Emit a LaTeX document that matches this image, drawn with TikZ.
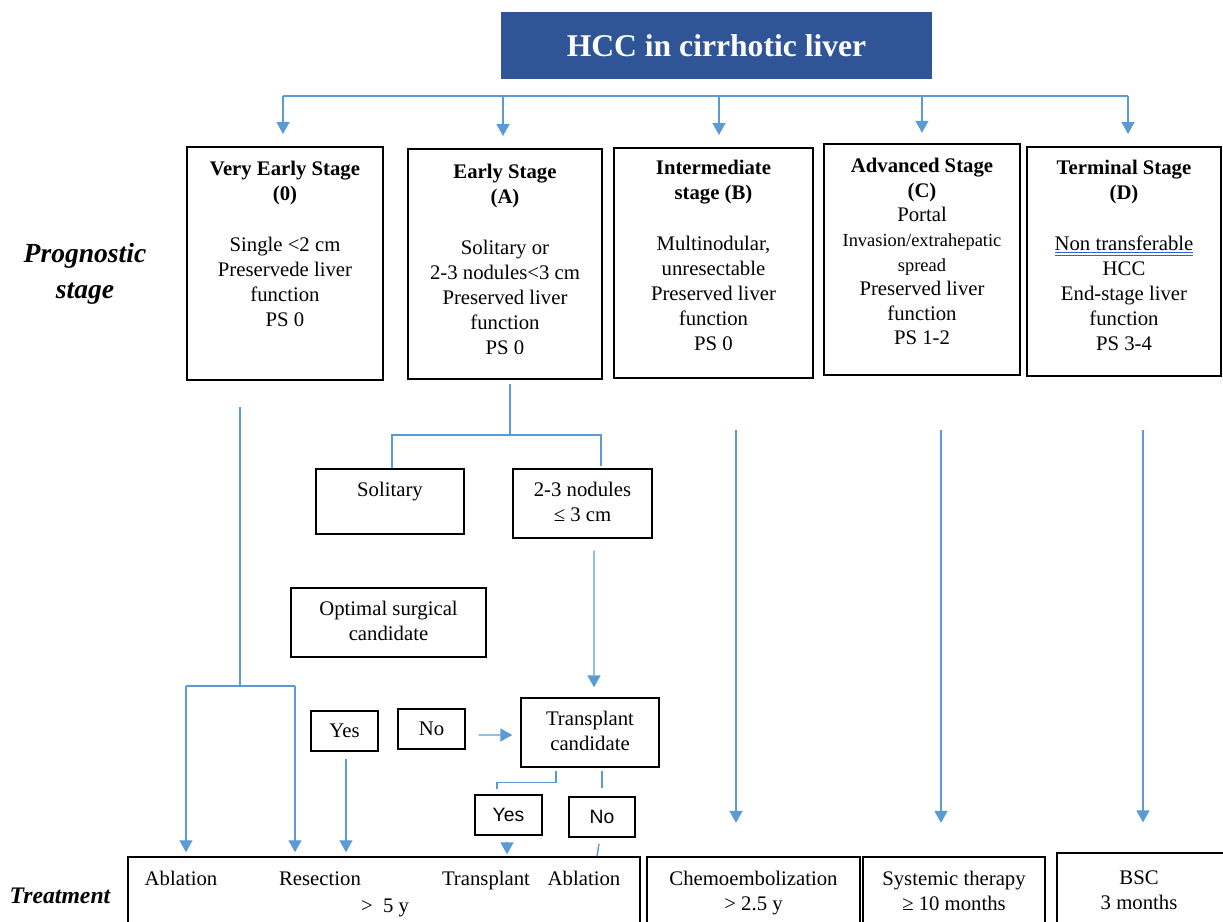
\documentclass[tikz,border=0pt]{standalone}
\usepackage{fontspec}
\setmainfont{Liberation Serif}
\newfontfamily\sansf{Liberation Sans}
\usetikzlibrary{arrows.meta,calc}
\definecolor{lblue}{HTML}{5B9BD5}
\definecolor{tblue}{HTML}{2F5597}
\definecolor{ublue}{HTML}{2F62D8}
\newcommand\bodyfont{\fontsize{11.8}{14.2}\selectfont}
\newsavebox\dulbox
\newcommand\dul[1]{\sbox\dulbox{#1}\rlap{\color{ublue}\rule[-1.8pt]{\wd\dulbox}{0.6pt}}\rlap{\color{ublue}\rule[-3.4pt]{\wd\dulbox}{0.6pt}}\usebox\dulbox}
\begin{document}
\begin{tikzpicture}[x=0.02cm,y=-0.02cm,
  box/.style={draw,line width=0.85pt,inner sep=0pt},
  txt/.style={inner sep=0pt,align=center,font=\bodyfont},
  conn/.style={draw=lblue,line width=0.8pt},
  arr/.style={conn,-{Triangle[width=7.4pt,length=6.8pt]}}]
\clip (0,0) rectangle (1223,922);
\fill[white] (0,0) rectangle (1223,922);

% title
\node[fill=tblue,minimum width=8.62cm,minimum height=1.34cm,inner sep=0pt,text=white,
  font=\fontsize{18}{22}\selectfont\bfseries] (title) at (716.5,45.5) {HCC in cirrhotic liver};

% side labels
\node[inner sep=0pt,align=center,font=\fontsize{15.7}{20.4}\selectfont\bfseries\itshape] (prog) at (85,274) {Prognostic\\stage};
\node[inner sep=0pt,font=\fontsize{13.5}{16}\selectfont\bfseries\itshape] (treat) at (60,896) {Treatment};

% stage boxes
\node[box,minimum width=3.92cm,minimum height=4.66cm] (s1) at (285,263.5) {};
\node[txt,anchor=north] (s1t) at (285,161) {\textbf{Very Early Stage}\\\textbf{(0)}\\[14.6pt]Single <2 cm\\Preservede liver\\function\\PS 0};
\node[box,minimum width=3.88cm,minimum height=4.60cm] (s2) at (505,264) {};
\node[txt,anchor=north] (s2t) at (505,164) {\textbf{Early Stage}\\\textbf{(A)}\\[14.6pt]Solitary or\\2-3 nodules<3 cm\\Preserved liver\\function\\PS 0};
\node[box,minimum width=3.98cm,minimum height=4.60cm] (s3) at (713.5,263) {};
\node[txt,anchor=north] (s3t) at (713.5,160) {\textbf{Intermediate}\\\textbf{stage (B)}\\[14.6pt]Multinodular,\\unresectable\\Preserved liver\\function\\PS 0};
\node[box,minimum width=3.92cm,minimum height=4.62cm] (s4) at (922,259.5) {};
\node[txt,anchor=north,font=\fontsize{11.8}{14}\selectfont] (s4t) at (922,158) {\textbf{Advanced Stage}\\\textbf{(C)}\\Portal\\{\fontsize{10.5}{14}\selectfont Invasion/extrahepatic}\\{\fontsize{10.5}{14}\selectfont spread}\\Preserved liver\\function\\PS 1-2};
\node[box,minimum width=3.88cm,minimum height=4.58cm] (s5) at (1124,261.5) {};
\node[txt,anchor=north] (s5t) at (1124,160) {\textbf{Terminal Stage}\\\textbf{(D)}\\[14.6pt]\dul{Non transferable}\\HCC\\End-stage liver\\function\\PS 3-4};

% middle boxes
\node[box,minimum width=2.96cm,minimum height=1.30cm] (sol) at (390,501.5) {};
\node[txt,anchor=north] (solt) at (390,482) {Solitary};
\node[box,minimum width=2.78cm,minimum height=1.38cm] (nod) at (582.5,503.5) {};
\node[txt,anchor=north] (nodt) at (582.5,482) {2-3 nodules\\≤ 3 cm};
\node[box,minimum width=3.90cm,minimum height=1.38cm] (opt) at (388.5,622.5) {};
\node[txt,anchor=north] (optt) at (388.5,601) {Optimal surgical\\candidate};
\node[box,txt,minimum width=1.34cm,minimum height=0.80cm] (yes1) at (344.5,731) {Yes};
\node[box,txt,minimum width=1.34cm,minimum height=0.80cm] (no1) at (431.5,729) {No};
\node[box,minimum width=2.76cm,minimum height=1.38cm] (tc) at (590,732.5) {};
\node[txt,anchor=north] (tct) at (590,711) {Transplant\\candidate};
\node[box,txt,font=\sansf\fontsize{11}{13}\selectfont,minimum width=1.34cm,minimum height=0.80cm] (yes2) at (508.5,815) {Yes};
\node[box,txt,font=\sansf\fontsize{11}{13}\selectfont,minimum width=1.32cm,minimum height=0.80cm] (no2) at (602,817) {No};

% treatment boxes
\node[box,minimum width=10.24cm,minimum height=1.6cm] (t1) at (384,897) {};
\node[txt,anchor=base] (t1a) at (181,885) {Ablation};
\node[txt,anchor=base] (t1b) at (320,885) {Resection};
\node[txt,anchor=base] (t1c) at (486,885) {Transplant};
\node[txt,anchor=base] (t1d) at (584,885) {Ablation};
\node[txt,anchor=base] (t1e) at (385,912) {>\ \ 5 y};
\node[box,minimum width=4.26cm,minimum height=1.6cm] (t2) at (753.5,897) {};
\node[txt,anchor=north] (t2t) at (753.5,871) {Chemoembolization\\> 2.5 y};
\node[box,minimum width=3.64cm,minimum height=1.6cm] (t3) at (954,897) {};
\node[txt,anchor=north] (t3t) at (954,871) {Systemic therapy\\≥ 10 months};
\node[box,minimum width=3.36cm,minimum height=1.68cm] (t4) at (1141,895) {};
\node[txt,anchor=north] (t4t) at (1139,870) {BSC\\3 months};

% top bus
\coordinate (b1) at (283,96);
\coordinate (b2) at (503,96);
\coordinate (b3) at (719,96);
\coordinate (b4) at (922,96);
\coordinate (b5) at (1128,96);
\draw[conn] (b1) -- (b5);
\draw[arr,shorten >=7pt] (b1) -- (b1 |- s1.north);
\draw[arr,shorten >=7pt] (b2) -- (b2 |- s2.north);
\draw[arr,shorten >=7pt] (b3) -- (b3 |- s3.north);
\draw[arr,shorten >=6pt] (b4) -- (b4 |- s4.north);
\draw[arr,shorten >=7pt] (b5) -- (b5 |- s5.north);

% early stage split
\coordinate (j2top) at (510,384);
\coordinate (j2) at (510,435);
\draw[conn] (j2top) -- (j2);
\draw[conn] (j2) -| ($(sol.north)+(2,0)$);
\draw[conn] (j2) -| ($(nod.north)+(18.5,-2)$);
\draw[arr] ($(nod.south)+(11.5,12)$) -- ($(tc.north)+(4,-10)$);
\draw[arr] ($(no1.east)+(13,6)$) -- ($(tc.west)+(-8,2.5)$);
\draw[conn] ($(tc.south)+(-34,3)$) -- ++(0,12) -| ($(yes2.north)+(-11.5,-5)$);
\draw[conn] ($(tc.south)+(12,3)$) -- ($(no2.north)+(0,-8)$);
\draw[arr] ($(yes2.south)+(-1.5,6)$) -- ($(t1.north)+(123,-2)$);
\draw[conn] ($(no2.south)+(-3,6)$) -- ($(t1.north)+(213,0)$);

% very early stage
\coordinate (s1top) at (240,407);
\coordinate (j1) at (240,686);
\coordinate (j1L) at (186,686);
\coordinate (j1R) at (295,686);
\draw[conn] (s1top) -- (j1);
\draw[conn] (j1L) -- (j1R);
\draw[arr,shorten >=2.3pt] (j1L) -- (j1L |- t1.north);
\draw[arr,shorten >=2.3pt] (j1R) -- (j1R |- t1.north);
\draw[arr,shorten >=2.3pt] ($(yes1.south)+(1.5,7)$) -- ($(yes1.south |- t1.north)+(1.5,0)$);

% right columns
\coordinate (c3) at (736,430);
\coordinate (c4) at (941,430);
\coordinate (c5) at (1143,430);
\draw[arr,shorten >=19pt] (c3) -- (c3 |- t2.north);
\draw[arr,shorten >=19pt] (c4) -- (c4 |- t3.north);
\draw[arr,shorten >=17pt] (c5) -- (c5 |- t4.north);
\end{tikzpicture}
\end{document}
